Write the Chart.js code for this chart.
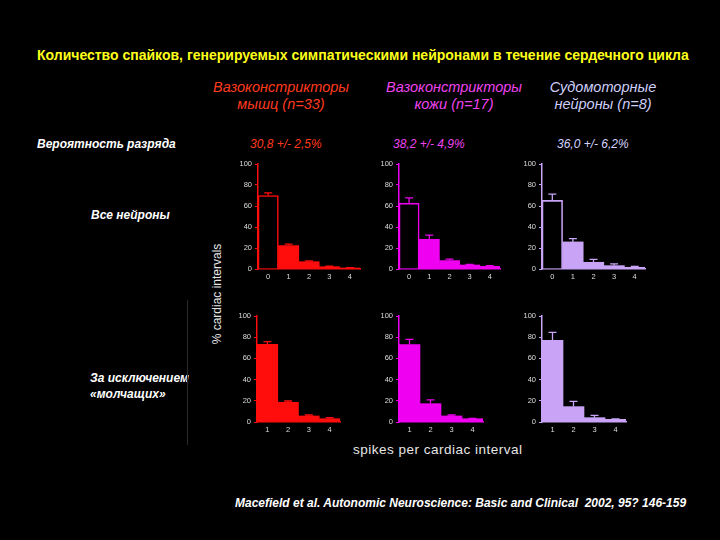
<!DOCTYPE html>
<html><head><meta charset="utf-8">
<script src="https://cdn.jsdelivr.net/npm/chart.js@4.4.1/dist/chart.umd.min.js"></script>
<style>
html,body{margin:0;padding:0;background:#000;}
#page{position:relative;width:720px;height:540px;background:#000;overflow:hidden;font-family:"Liberation Sans",Arial,sans-serif;}
.t{position:absolute;white-space:nowrap;}
.panel{position:absolute;}
</style></head>
<body><div id="page">
<div class="t" id="title" style="left:37px;top:46px;font-size:14px;font-weight:bold;color:#ffff1a;line-height:18px;">Количество спайков, генерируемых симпатическими нейронами в течение сердечного цикла</div>

<div class="t" style="left:181px;width:200px;top:79px;text-align:center;font-style:italic;font-size:14.5px;line-height:17px;color:#ff3a1f;">Вазоконстрикторы<br>мышц (n=33)</div>
<div class="t" style="left:354px;width:200px;top:79px;text-align:center;font-style:italic;font-size:14.5px;line-height:17px;color:#ee44ee;">Вазоконстрикторы<br>кожи (n=17)</div>
<div class="t" style="left:503px;width:200px;top:79px;text-align:center;font-style:italic;font-size:14.5px;line-height:17px;color:#cfcffa;">Судомоторные<br>нейроны (n=8)</div>

<div class="t" style="left:37px;top:136px;font-style:italic;font-weight:bold;font-size:12px;line-height:16px;color:#fff;">Вероятность разряда</div>
<div class="t" style="left:250px;top:136px;font-style:italic;font-size:12px;line-height:16px;color:#ff3a1f;">30,8 +/- 2,5%</div>
<div class="t" style="left:393px;top:136px;font-style:italic;font-size:12px;line-height:16px;color:#ee44ee;">38,2 +/- 4,9%</div>
<div class="t" style="left:557px;top:136px;font-style:italic;font-size:12px;line-height:16px;color:#d4d4ff;">36,0 +/- 6,2%</div>

<div class="t" style="left:91px;top:207px;font-style:italic;font-weight:bold;font-size:12px;line-height:16px;color:#fff;">Все нейроны</div>
<div class="t" style="left:90px;top:370px;font-style:italic;font-weight:bold;font-size:12px;line-height:16px;color:#fff;">За исключением<br>«молчащих»</div>

<div class="t" style="left:217px;top:294px;transform:translate(-50%,-50%) rotate(-90deg);font-size:12px;line-height:14px;color:#e6e6e6;">% cardiac intervals</div>
<div class="t" style="left:353px;top:441px;font-size:13.5px;letter-spacing:0.5px;line-height:18px;color:#e6e6e6;">spikes per cardiac interval</div>

<div class="t" style="left:235px;top:495px;font-style:italic;font-weight:bold;font-size:12px;line-height:16px;color:#fff;">Macefield et al. Autonomic Neuroscience: Basic and Clinical &nbsp;2002, 95? 146-159</div>

<div style="position:absolute;left:187px;top:300px;width:1px;height:145px;background:#2a2a2a;"></div>

<div class="panel" id="p1" style="left:234px;top:156px;width:130px;height:129px;"><canvas id="c1"></canvas></div>
<div class="panel" id="p2" style="left:375px;top:156px;width:129px;height:129px;"><canvas id="c2"></canvas></div>
<div class="panel" id="p3" style="left:518px;top:156px;width:131px;height:129px;"><canvas id="c3"></canvas></div>
<div class="panel" id="p4" style="left:233px;top:308px;width:111px;height:130px;"><canvas id="c4"></canvas></div>
<div class="panel" id="p5" style="left:375px;top:308px;width:112px;height:130px;"><canvas id="c5"></canvas></div>
<div class="panel" id="p6" style="left:518px;top:308px;width:112px;height:130px;"><canvas id="c6"></canvas></div>
</div>
<script>
// categories (spikes per cardiac interval)
const spikesAll = ['0','1','2','3','4'];
const spikesActive = ['1','2','3','4'];
// y axis ticks
const yTickLabels = [0, 20, 40, 60, 80, 100];

// All neurons (% cardiac intervals), mean and SE
const muscleAll = [70, 22.3, 7, 2.2, 1];
const muscleAllErr = [2.5, 1.3, 0.8, 0.4, 0.3];
const skinAll = [62.7, 28.3, 8, 3.8, 2.5];
const skinAllErr = [5, 4, 1.5, 0.6, 0.8];
const sudoAll = [65.3, 25.8, 6.4, 3.2, 1.6];
const sudoAllErr = [6, 3.2, 2.8, 1.6, 0.8];

// Excluding silent intervals
const muscleActive = [73.3, 18.6, 5.7, 3.1];
const muscleActiveErr = [2.5, 1.2, 0.9, 0.9];
const skinActive = [73, 17.3, 5.7, 3.1];
const skinActiveErr = [5, 3.5, 0.9, 0.4];
const sudoActive = [77, 14.5, 4.1, 2.5];
const sudoActiveErr = [7.5, 5, 2.2, 0.5];

const RED = '#ff0c0c', MAG = '#f000f0', LAV = '#c8a3f6';

const errPlugin = {
  id: 'errbars',
  afterDatasetsDraw(chart) {
    const ctx = chart.ctx;
    const y = chart.scales.y;
    chart.data.datasets.forEach((ds, di) => {
      const meta = chart.getDatasetMeta(di);
      ctx.save();
      ctx.strokeStyle = ds.errColor;
      ctx.lineWidth = 1.3;
      meta.data.forEach((bar, i) => {
        const e = ds.errors[i];
        if (!e) return;
        const y0 = y.getPixelForValue(ds.data[i]);
        const y1 = y.getPixelForValue(ds.data[i] + e);
        ctx.beginPath();
        ctx.moveTo(bar.x, y0);
        ctx.lineTo(bar.x, y1);
        ctx.moveTo(bar.x - 4, y1);
        ctx.lineTo(bar.x + 4, y1);
        ctx.stroke();
      });
      ctx.restore();
    });
  }
};

function makeChart(id, labels, values, errs, color, hollowFirst) {
  const bg = values.map((v, i) => (hollowFirst && i === 0) ? '#000' : color);
  const bw = values.map((v, i) => (hollowFirst && i === 0) ? 1.6 : 0);
  new Chart(document.getElementById(id), {
    type: 'bar',
    data: {
      labels: labels,
      datasets: [{
        data: values,
        errors: errs,
        errColor: color,
        backgroundColor: bg,
        borderColor: color,
        borderWidth: bw,
        borderSkipped: 'bottom',
        barPercentage: 1,
        categoryPercentage: 1
      }]
    },
    options: {
      responsive: true,
      maintainAspectRatio: false,
      animation: false,
      layout: { padding: { top: 8, right: 4, left: 0, bottom: 0 } },
      plugins: { legend: { display: false }, tooltip: { enabled: false } },
      scales: {
        x: {
          grid: { display: true, drawOnChartArea: false, drawTicks: false },
          border: { color: color, width: 1.5 },
          ticks: { color: '#dddddd', font: { size: 7.5, family: 'Liberation Sans' }, padding: 3, maxRotation: 0 },
          afterFit(s) { s.height = 16; }
        },
        y: {
          min: 0, max: 100,
          grid: { display: true, drawOnChartArea: false, drawTicks: true, tickLength: 3, color: color, lineWidth: 1 },
          border: { color: color, width: 1.5 },
          ticks: {
            stepSize: 10,
            color: '#dddddd',
            font: { size: 7.5, family: 'Liberation Sans' },
            padding: 3,
            callback: (v) => yTickLabels.includes(v) ? String(v) : ''
          },
          afterFit(s) { s.width = 24; }
        }
      }
    },
    plugins: [errPlugin]
  });
}

makeChart('c1', spikesAll, muscleAll, muscleAllErr, RED, true);
makeChart('c2', spikesAll, skinAll, skinAllErr, MAG, true);
makeChart('c3', spikesAll, sudoAll, sudoAllErr, LAV, true);
makeChart('c4', spikesActive, muscleActive, muscleActiveErr, RED, false);
makeChart('c5', spikesActive, skinActive, skinActiveErr, MAG, false);
makeChart('c6', spikesActive, sudoActive, sudoActiveErr, LAV, false);
</script>
</body></html>
